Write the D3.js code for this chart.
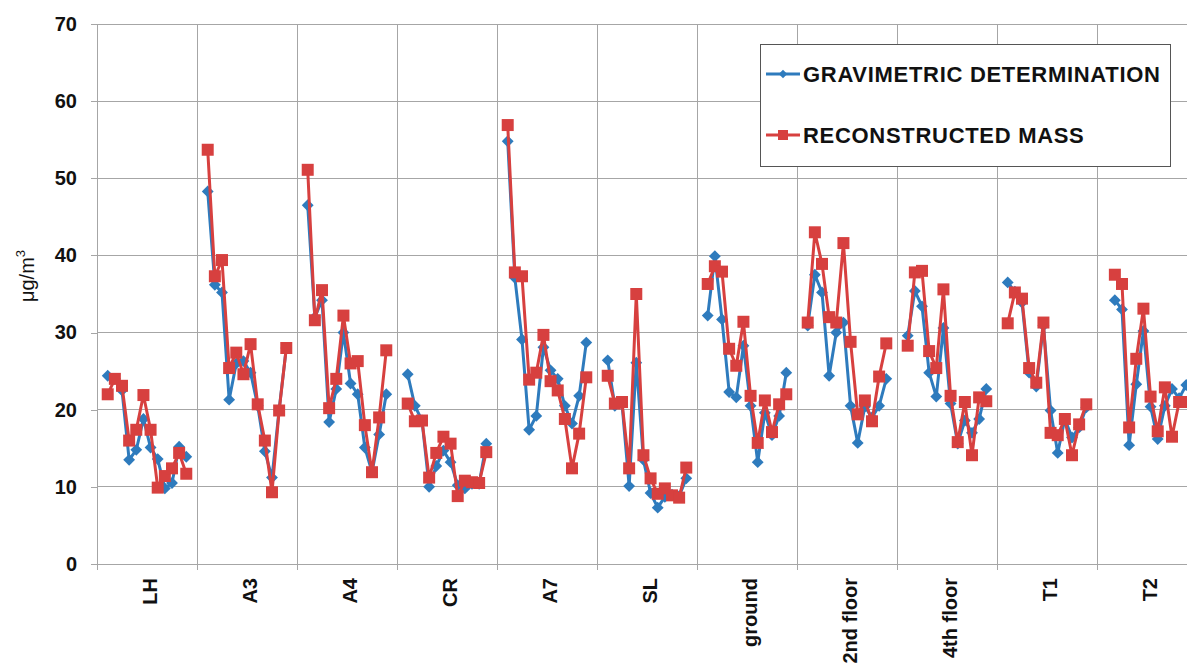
<!DOCTYPE html>
<html><head><meta charset="utf-8">
<script src="https://cdn.jsdelivr.net/npm/d3@7"></script>
<style>
body{margin:0;background:#fff;}
svg{display:block;font-family:"Liberation Sans",Arial,sans-serif;}
</style>
</head><body>
<svg id="chart" width="1187" height="666"></svg>
<script>
// ---- data ----
const groups = ["LH","A3","A4","CR","A7","SL","ground","2nd floor","4th floor","T1","T2"];
const sampleIndex = d3.range(12);
const yTicks = [0,10,20,30,40,50,60,70];
const seriesNames = ["GRAVIMETRIC DETERMINATION","RECONSTRUCTED MASS"];

// gravimetric determination (µg/m3), one row per group
const gravimetric = [
  [24.4, 24.0, 22.5, 13.5, 14.8, 18.8, 15.1, 13.6, 9.8, 10.5, 15.2, 13.9],
  [48.3, 36.2, 35.2, 21.3, 26.0, 26.3, 24.8, 20.5, 14.6, 11.2, 20.0, 28.0],
  [46.5, 32.0, 34.2, 18.4, 22.7, 30.0, 23.4, 22.0, 15.1, 11.9, 16.8, 22.0],
  [24.6, 20.5, 18.6, 10.0, 12.7, 14.7, 13.2, 10.2, 9.8, 10.4, 10.4, 15.6],
  [54.8, 37.1, 29.1, 17.4, 19.2, 28.1, 25.1, 24.0, 20.5, 18.2, 21.8, 28.7],
  [26.4, 20.5, 20.8, 10.1, 26.1, 13.5, 9.2, 7.3, 8.7, 9.0, 8.8, 11.1],
  [32.2, 39.9, 31.7, 22.3, 21.6, 28.3, 20.5, 13.2, 19.6, 16.7, 19.2, 24.8],
  [30.9, 37.5, 35.2, 24.4, 30.0, 31.3, 20.5, 15.7, 20.4, 19.0, 20.5, 24.0],
  [29.6, 35.4, 33.4, 24.8, 21.7, 30.6, 20.8, 15.6, 18.6, 17.0, 18.8, 22.7],
  [36.5, 35.3, 33.9, 24.8, 23.0, 30.9, 19.9, 14.4, 18.8, 16.4, 17.7, 20.3],
  [null, 34.2, 33.0, 15.4, 23.3, 30.2, 20.4, 16.2, 20.5, 22.7, 21.5, 23.2]
];
// reconstructed mass (µg/m3)
const reconstructed = [
  [22.0, 24.0, 23.1, 16.0, 17.4, 21.9, 17.4, 9.9, 11.4, 12.4, 14.4, 11.7],
  [53.7, 37.3, 39.4, 25.4, 27.4, 24.6, 28.5, 20.7, 16.0, 9.3, 19.9, 28.0],
  [51.1, 31.6, 35.5, 20.2, 24.0, 32.2, 26.0, 26.3, 18.0, 11.9, 19.0, 27.7],
  [20.8, 18.5, 18.6, 11.2, 14.4, 16.5, 15.6, 8.8, 10.8, 10.6, 10.5, 14.5],
  [56.9, 37.8, 37.3, 23.9, 24.8, 29.7, 23.7, 22.5, 18.8, 12.4, 16.9, 24.2],
  [24.4, 20.8, 21.0, 12.4, 35.0, 14.1, 11.1, 9.1, 9.8, 8.9, 8.6, 12.5],
  [36.3, 38.6, 37.9, 27.9, 25.7, 31.4, 21.8, 15.7, 21.2, 17.1, 20.7, 22.0],
  [31.3, 43.0, 38.9, 32.0, 31.3, 41.6, 28.8, 19.4, 21.2, 18.5, 24.3, 28.6],
  [28.3, 37.8, 38.0, 27.6, 25.4, 35.6, 21.8, 15.8, 21.0, 14.1, 21.6, 21.1],
  [31.2, 35.2, 34.4, 25.4, 23.5, 31.3, 17.0, 16.7, 18.8, 14.1, 18.1, 20.7],
  [null, 37.5, 36.3, 17.7, 26.6, 33.1, 21.7, 17.2, 22.9, 16.5, 21.0, 21.0]
];

(function () {
// ---- layout ----
const W = 1187, H = 666;
const mLeft = 97, mRight = 1197, mTop = 24, mBottom = 564;
const blue = "#2e7bbd", red = "#d7403f", grid = "#a6a6a6";

const svg = d3.select("#chart");
svg.append("rect").attr("width", W).attr("height", H).attr("fill", "#fff");

const x = d3.scaleBand().domain(groups).range([mLeft, mRight]).padding(0);
const xi = d3.scalePoint().domain(sampleIndex).range([0, x.bandwidth()]).padding(1.5);
const y = d3.scaleLinear().domain([0, 70]).range([mBottom, mTop]);

// horizontal gridlines
svg.append("g").selectAll("line").data(yTicks.filter(t => t > 0)).join("line")
  .attr("x1", mLeft).attr("x2", W)
  .attr("y1", d => y(d)).attr("y2", d => y(d))
  .attr("stroke", grid).attr("stroke-width", 1).attr("shape-rendering", "crispEdges");

// vertical group separators (extend below axis as tick marks)
svg.append("g").selectAll("line").data(groups.slice(1)).join("line")
  .attr("x1", d => x(d)).attr("x2", d => x(d))
  .attr("y1", mTop).attr("y2", mBottom + 6)
  .attr("stroke", grid).attr("stroke-width", 1).attr("shape-rendering", "crispEdges");

// x axis line
svg.append("line").attr("x1", mLeft).attr("x2", W).attr("y1", mBottom).attr("y2", mBottom)
  .attr("stroke", grid).attr("stroke-width", 1).attr("shape-rendering", "crispEdges");
svg.append("line").attr("x1", mLeft).attr("x2", mLeft).attr("y1", mBottom).attr("y2", mBottom + 6)
  .attr("stroke", grid).attr("shape-rendering", "crispEdges");

// y axis
const yAxis = svg.append("g").attr("transform", `translate(${mLeft},0)`)
  .call(d3.axisLeft(y).tickValues(yTicks).tickSize(6).tickPadding(14).tickFormat(d3.format("d")));
yAxis.select(".domain").attr("stroke", grid).attr("shape-rendering", "crispEdges");
yAxis.selectAll(".tick line").attr("stroke", grid).attr("shape-rendering", "crispEdges");
yAxis.selectAll(".tick text")
  .attr("font-family", "Liberation Sans, Arial, sans-serif")
  .attr("font-size", 20).attr("font-weight", "bold").attr("fill", "#111");

// y axis title
const yt = svg.append("text")
  .attr("transform", "translate(34,276) rotate(-90)")
  .attr("text-anchor", "middle")
  .attr("font-size", 20).attr("fill", "#111");
yt.append("tspan").text("μg/m");
yt.append("tspan").text("3").attr("font-size", 13).attr("dy", -9);

// x labels
svg.append("g").selectAll("text").data(groups).join("text")
  .attr("transform", d => `translate(${x(d) + x.bandwidth() / 2 + 3},${mBottom + 14}) rotate(-90)`)
  .attr("text-anchor", "end").attr("dy", "0.35em")
  .attr("font-size", 20).attr("font-weight", "bold").attr("fill", "#111")
  .text(d => d);

// ---- series ----
const line = d3.line()
  .defined(d => d.v != null)
  .x(d => x(d.g) + xi(d.i))
  .y(d => y(d.v));

function rows(values) {
  return groups.map((g, gi) => sampleIndex.map(i => ({ g, i, v: values[gi][i] })));
}

const diamond = d3.symbol(d3.symbolSquare, 70)();
const square = d3.symbol(d3.symbolSquare, 144)();

function drawSeries(values, color, markerPath, rotate, width) {
  const data = rows(values);
  const gS = svg.append("g");
  gS.selectAll("path.ln").data(data).join("path").attr("class", "ln")
    .attr("d", line).attr("fill", "none").attr("stroke", color)
    .attr("stroke-width", width).attr("stroke-linejoin", "round");
  gS.selectAll("path.mk").data(data.flat().filter(d => d.v != null)).join("path").attr("class", "mk")
    .attr("d", markerPath)
    .attr("transform", d => `translate(${x(d.g) + xi(d.i)},${y(d.v)}) rotate(${rotate})`)
    .attr("fill", color);
}

drawSeries(gravimetric, blue, diamond, 45, 3);
drawSeries(reconstructed, red, square, 0, 3);

// ---- legend ----
const lg = svg.append("g");
lg.append("rect").attr("x", 760.5).attr("y", 44.5).attr("width", 410).attr("height", 122)
  .attr("fill", "#fff").attr("stroke", "#555").attr("stroke-width", 1);
const legendItems = [
  { name: seriesNames[0], color: blue, path: d3.symbol(d3.symbolSquare, 36)(), rot: 45, y: 74 },
  { name: seriesNames[1], color: red, path: d3.symbol(d3.symbolSquare, 100)(), rot: 0, y: 135 }
];
legendItems.forEach(it => {
  lg.append("line").attr("x1", 766).attr("x2", 800).attr("y1", it.y).attr("y2", it.y)
    .attr("stroke", it.color).attr("stroke-width", 3);
  lg.append("path").attr("d", it.path)
    .attr("transform", `translate(783,${it.y}) rotate(${it.rot})`).attr("fill", it.color);
  lg.append("text").attr("x", 803).attr("y", it.y).attr("dy", "0.36em")
    .attr("font-size", 22).attr("font-weight", "bold").attr("letter-spacing", 0.7)
    .attr("fill", "#111").text(it.name);
});
})();
</script>
</body></html>
